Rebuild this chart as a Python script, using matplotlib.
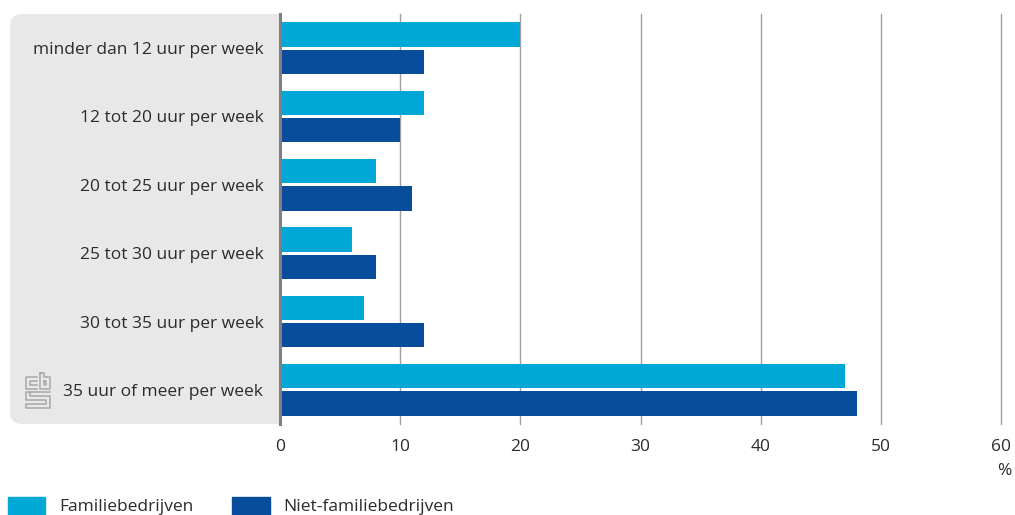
import numpy as np
import matplotlib as mpl
mpl.use('Agg')
import matplotlib.pyplot as plt
from matplotlib.patches import FancyBboxPatch, Rectangle
from matplotlib.lines import Line2D

# Data
categories = ['minder dan 12 uur per week', '12 tot 20 uur per week',
              '20 tot 25 uur per week', '25 tot 30 uur per week',
              '30 tot 35 uur per week', '35 uur of meer per week']
familie = [20, 12, 8, 6, 7, 47]
niet_familie = [12, 10, 11, 8, 12, 48]
series_names = ['Familiebedrijven', 'Niet-familiebedrijven']
xticks = [0, 10, 20, 30, 40, 50, 60]

light = '#00a8d6'
dark = '#084d9c'
txt = '#2b2b2b'

plt.rcParams['font.family'] = ['Open Sans', 'DejaVu Sans']

W, H = 1015, 515
fig = plt.figure(figsize=(W / 100, H / 100), dpi=100)

def fx(px):
    return px / W

def fy(py):
    return 1 - py / H

ax = fig.add_axes([fx(280), fy(424), fx(1001) - fx(280), fy(14) - fy(424)])

# gray panel behind labels
panel = FancyBboxPatch((fx(10), fy(424)), fx(300) - fx(10), fy(14) - fy(424),
                       boxstyle='round,pad=0,rounding_size=0.012',
                       transform=fig.transFigure, facecolor='#e8e8e8',
                       edgecolor='none', zorder=-5, mutation_aspect=W / H)
fig.patches.append(panel)

y = np.arange(len(categories))
h = 0.36
off = 0.2
ax.barh(y - off, familie, height=h, color=light, zorder=3)
ax.barh(y + off, niet_familie, height=h, color=dark, zorder=3)

ax.set_xlim(0, 60)
ax.set_ylim(5.5, -0.5)
ax.set_xticks(xticks)
ax.set_xticklabels([str(t) for t in xticks], fontsize=12.5, color=txt)
ax.set_yticks(y)
ax.set_yticklabels(categories, fontsize=12.5, color=txt)
ax.tick_params(axis='y', length=0, pad=12)
ax.tick_params(axis='x', length=0, pad=11)
ax.xaxis.grid(True, color='#a0a0a0', linewidth=1, zorder=0)
for gl in ax.get_xgridlines():
    gl.set_clip_on(False)
ax.set_axisbelow(True)
for s in ['top', 'right', 'bottom']:
    ax.spines[s].set_visible(False)
ax.spines['left'].set_color('#808080')
ax.spines['left'].set_linewidth(2.2)
ax.spines['left'].set_zorder(4)

fig.text(fx(1011), fy(471), '%', ha='right', va='center', fontsize=12.5, color=txt)

# cbs logo (rough)
lc = '#a8a8a8'
lw = 1.1
segs = [
    [(37, 377), (26, 377), (26, 389), (37, 389)],
    [(37, 381), (30, 381), (30, 385), (37, 385)],
    [(40, 373), (40, 389), (50, 389), (50, 377), (44, 377), (44, 373), (40, 373)],
    [(44, 381), (46, 381), (46, 385), (44, 385), (44, 381)],
    [(50, 392), (26, 392), (26, 400), (46, 400), (46, 404), (26, 404), (26, 408),
     (50, 408), (50, 396), (30, 396), (30, 392)],
]
for seg in segs:
    xs = [fx(p[0]) for p in seg]
    ys = [fy(p[1]) for p in seg]
    fig.add_artist(Line2D(xs, ys, color=lc, linewidth=lw, transform=fig.transFigure))

# legend
fig.add_artist(Rectangle((fx(8), 0), fx(45) - fx(8), fy(497), color=light,
                         transform=fig.transFigure))
fig.text(fx(59), fy(507), series_names[0], va='center', ha='left', fontsize=12.5, color=txt)
fig.add_artist(Rectangle((fx(232), 0), fx(270) - fx(232), fy(497), color=dark,
                         transform=fig.transFigure))
fig.text(fx(283), fy(507), series_names[1], va='center', ha='left', fontsize=12.5, color=txt)

fig.savefig('out.png', dpi=100)
